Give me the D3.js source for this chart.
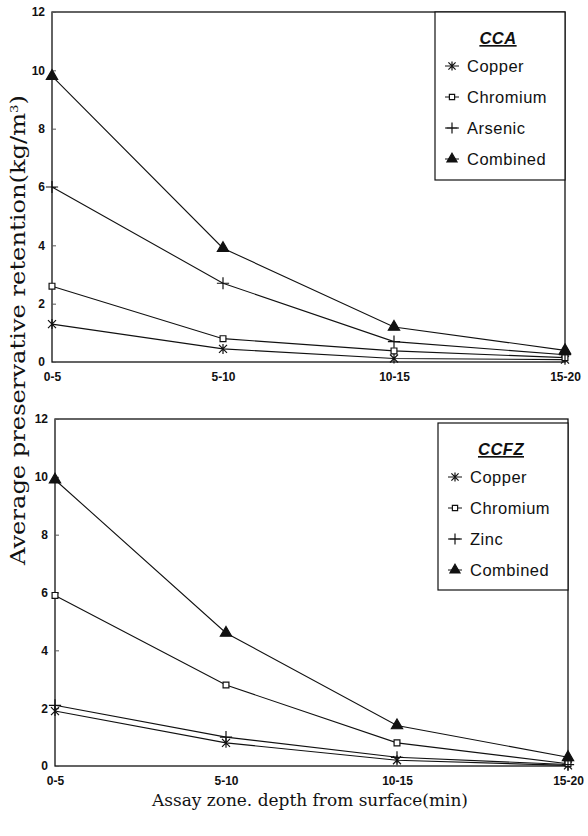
<!DOCTYPE html>
<html>
<head>
<meta charset="utf-8">
<script src="https://cdn.jsdelivr.net/npm/d3@7"></script>
<style>
  body { margin: 0; background: #fff; }
  svg { display: block; }
  .tick-label { font-family: "Liberation Sans", Arial, sans-serif; font-weight: bold; font-size: 12px; fill: #111; }
  .legend-text { font-family: "Liberation Sans", Arial, sans-serif; font-size: 16.5px; letter-spacing: 0.5px; fill: #111; }
  .axis-title { font-family: "DejaVu Serif", "Liberation Serif", serif; fill: #111; }
</style>
</head>
<body>
<svg id="chart" width="588" height="836"></svg>
<script>
// categories and y ticks
const zones = ['0-5', '5-10', '10-15', '15-20']
const yTicks = [0, 2, 4, 6, 8, 10, 12]

// CCA panel (kg/m3)
const ccaCopper = [1.3, 0.45, 0.12, 0.08]
const ccaChromium = [2.6, 0.8, 0.38, 0.15]
const ccaArsenic = [6.0, 2.7, 0.7, 0.25]
const ccaCombined = [9.8, 3.9, 1.2, 0.4]

// CCFZ panel (kg/m3)
const ccfzCopper = [1.9, 0.8, 0.2, 0.02]
const ccfzChromium = [5.9, 2.8, 0.8, 0.08]
const ccfzZinc = [2.1, 1.0, 0.3, 0.05]
const ccfzCombined = [9.9, 4.6, 1.4, 0.3]

window.addEventListener('load', () => {
  const svg = d3.select('#chart')

  // marker shapes
  const asterisk = {
    draw(ctx, size) {
      const r = Math.sqrt(size) / 2
      const d = r * 0.8
      ctx.moveTo(-d, -d); ctx.lineTo(d, d)
      ctx.moveTo(-d, d); ctx.lineTo(d, -d)
      ctx.moveTo(0, -r); ctx.lineTo(0, r)
    }
  }
  const plus = {
    draw(ctx, size) {
      const r = Math.sqrt(size) / 2
      ctx.moveTo(-r, 0); ctx.lineTo(r, 0)
      ctx.moveTo(0, -r); ctx.lineTo(0, r)
    }
  }
  const marker = {
    star: { type: asterisk, size: 100, fill: 'none' },
    square: { type: d3.symbolSquare, size: 34, fill: '#fff' },
    plus: { type: plus, size: 150, fill: 'none' },
    tri: { type: d3.symbolTriangle, size: 55, fill: '#111' }
  }

  drawPanel({
    left: 52, right: 565, top: 12, bottom: 362,
    title: 'CCA',
    legend: { x: 435, y: 12, w: 130, h: 168 },
    series: [
      { name: 'Copper', values: ccaCopper, m: 'star' },
      { name: 'Chromium', values: ccaChromium, m: 'square' },
      { name: 'Arsenic', values: ccaArsenic, m: 'plus' },
      { name: 'Combined', values: ccaCombined, m: 'tri' }
    ]
  })

  drawPanel({
    left: 55, right: 568, top: 419, bottom: 766,
    title: 'CCFZ',
    legend: { x: 438, y: 423, w: 130, h: 167 },
    series: [
      { name: 'Copper', values: ccfzCopper, m: 'star' },
      { name: 'Chromium', values: ccfzChromium, m: 'square' },
      { name: 'Zinc', values: ccfzZinc, m: 'plus' },
      { name: 'Combined', values: ccfzCombined, m: 'tri' }
    ]
  })

  function drawPanel(p) {
    const x = d3.scalePoint().domain(zones).range([p.left, p.right])
    const y = d3.scaleLinear().domain([0, 12]).range([p.bottom, p.top])
    const g = svg.append('g')

    // frame
    g.append('rect')
      .attr('x', p.left).attr('y', p.top)
      .attr('width', p.right - p.left).attr('height', p.bottom - p.top)
      .attr('fill', 'none').attr('stroke', '#111').attr('stroke-width', 1.3)

    // y axis: inward ticks, labels left
    const yAxis = d3.axisLeft(y).tickValues(yTicks).tickSize(-4).tickPadding(7)
    const ya = g.append('g').attr('transform', `translate(${p.left},0)`).call(yAxis)
    ya.select('.domain').remove()
    ya.selectAll('line').attr('stroke', '#555')
    ya.selectAll('text').attr('class', 'tick-label').attr('font-size', null).attr('font-family', null)

    // x axis labels
    const xAxis = d3.axisBottom(x).tickSize(0).tickPadding(10)
    const xa = g.append('g').attr('transform', `translate(0,${p.bottom})`).call(xAxis)
    xa.select('.domain').remove()
    xa.selectAll('text').attr('class', 'tick-label').attr('font-size', null).attr('font-family', null)

    const line = d3.line().x((d, i) => x(zones[i])).y((d) => y(d))

    p.series.forEach((s) => {
      g.append('path')
        .attr('d', line(s.values))
        .attr('fill', 'none').attr('stroke', '#111').attr('stroke-width', 1.1)
    })
    p.series.forEach((s) => {
      const mk = marker[s.m]
      g.selectAll(null)
        .data(s.values)
        .enter()
        .append('path')
        .attr('transform', (d, i) => `translate(${x(zones[i])},${y(d)})`)
        .attr('d', d3.symbol().type(mk.type).size(mk.size))
        .attr('fill', mk.fill).attr('stroke', '#111').attr('stroke-width', 1.2)
    })

    // legend
    const L = p.legend
    const lg = g.append('g').attr('transform', `translate(${L.x},${L.y})`)
    lg.append('rect').attr('width', L.w).attr('height', L.h)
      .attr('fill', '#fff').attr('stroke', '#111').attr('stroke-width', 1.2)
    lg.append('text')
      .attr('x', L.w / 2 - 2).attr('y', 32)
      .attr('text-anchor', 'middle')
      .attr('class', 'legend-text')
      .attr('font-weight', 'bold').attr('font-style', 'italic')
      .attr('text-decoration', 'underline')
      .text(p.title)
    p.series.forEach((s, i) => {
      const cy = 54 + i * 31
      const mk = marker[s.m]
      lg.append('line').attr('x1', 10).attr('x2', 24).attr('y1', cy).attr('y2', cy)
        .attr('stroke', '#111').attr('stroke-width', 1)
      lg.append('path')
        .attr('transform', `translate(17,${cy})`)
        .attr('d', d3.symbol().type(mk.type).size(mk.size * 0.8))
        .attr('fill', mk.fill).attr('stroke', '#111').attr('stroke-width', 1.2)
      lg.append('text')
        .attr('x', 32).attr('y', cy + 6)
        .attr('class', 'legend-text')
        .text(s.name)
    })
  }

  // axis titles
  svg.append('text')
    .attr('class', 'axis-title')
    .attr('transform', 'translate(25,330) rotate(-90)')
    .attr('text-anchor', 'middle')
    .attr('font-size', 20)
    .attr('textLength', 470).attr('lengthAdjust', 'spacingAndGlyphs')
    .html('Average preservative retention(kg/m<tspan dy="-7" font-size="11">3</tspan><tspan dy="7">)</tspan>')

  svg.append('text')
    .attr('class', 'axis-title')
    .attr('x', 310).attr('y', 806)
    .attr('text-anchor', 'middle')
    .attr('font-size', 17)
    .attr('textLength', 316).attr('lengthAdjust', 'spacingAndGlyphs')
    .text('Assay zone. depth from surface(min)')
})
</script>
</body>
</html>
